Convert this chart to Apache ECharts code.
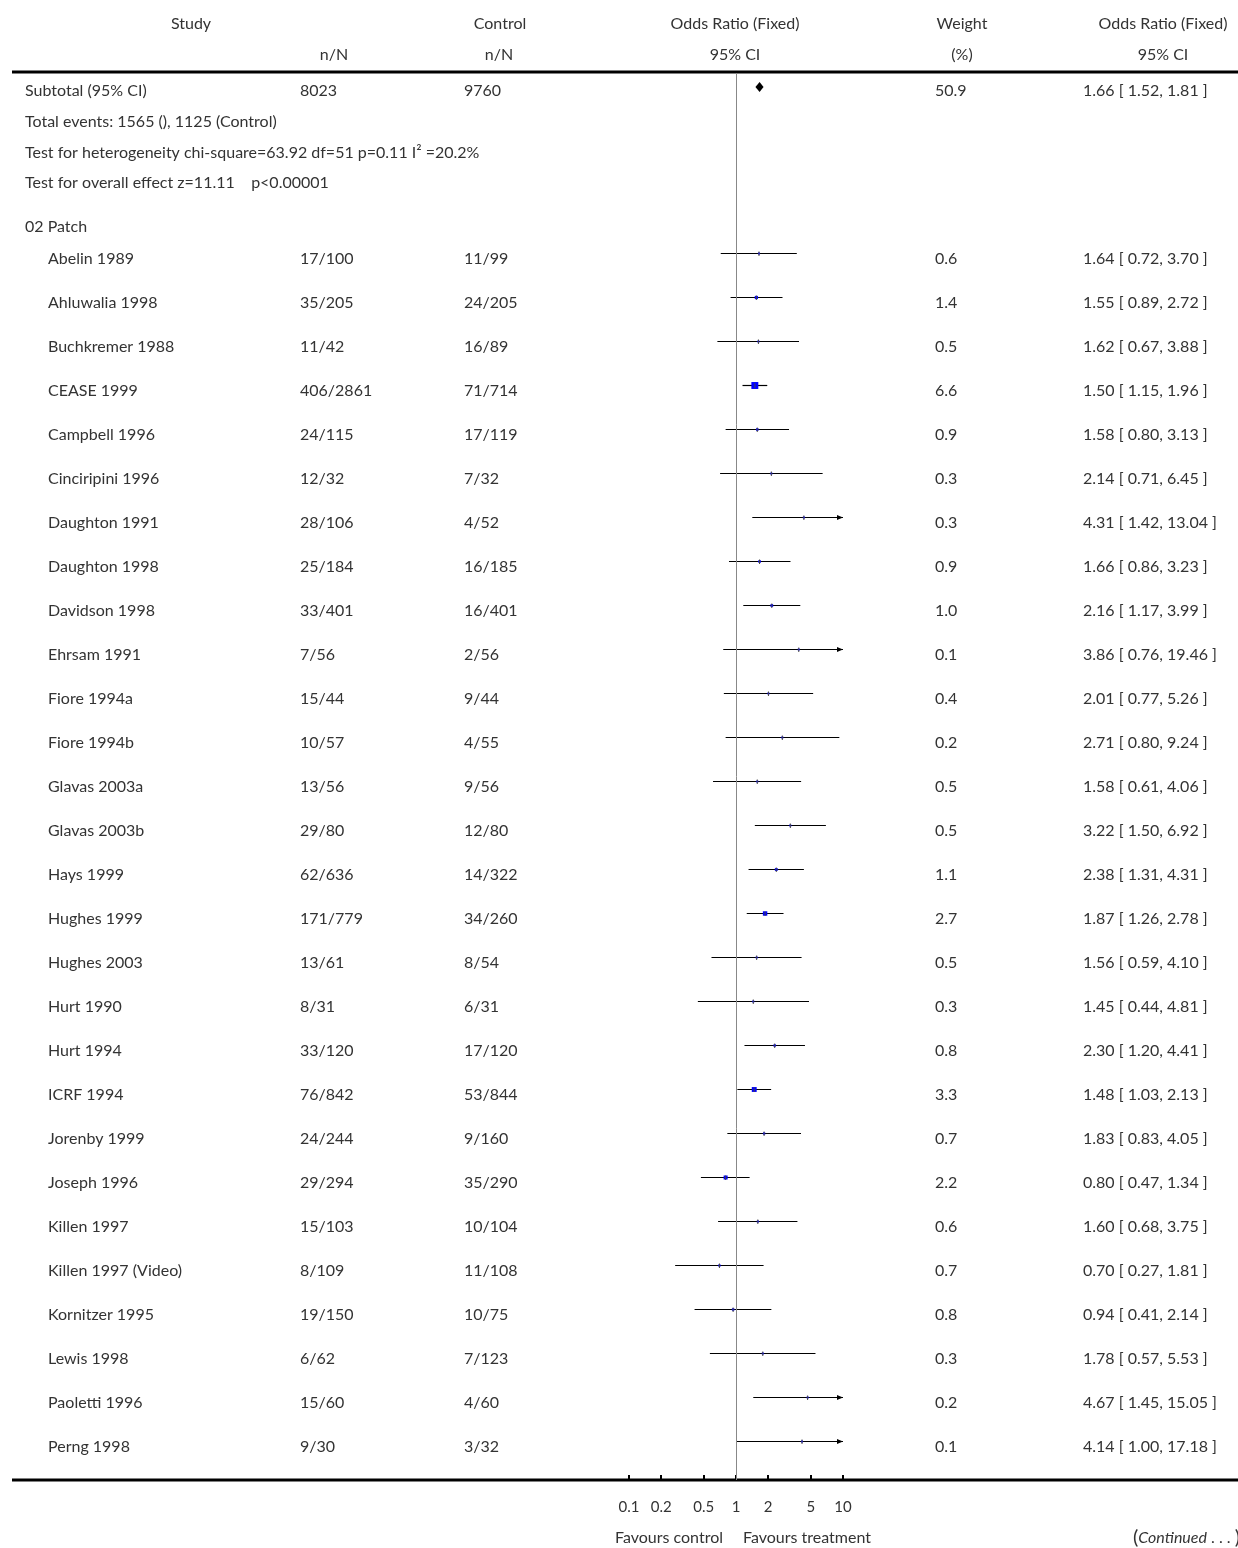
<!DOCTYPE html>
<html>
<head>
<meta charset="utf-8">
<script src="https://cdn.jsdelivr.net/npm/echarts@6/dist/echarts.min.js"></script>
<style>
  html, body { margin: 0; padding: 0; background: #fff; }
  #chart { width: 1238px; height: 1548px; }
</style>
</head>
<body>
<div id="chart"></div>
<script>
// data
var studies = ['Abelin 1989', 'Ahluwalia 1998', 'Buchkremer 1988', 'CEASE 1999', 'Campbell 1996',
  'Cinciripini 1996', 'Daughton 1991', 'Daughton 1998', 'Davidson 1998', 'Ehrsam 1991',
  'Fiore 1994a', 'Fiore 1994b', 'Glavas 2003a', 'Glavas 2003b', 'Hays 1999', 'Hughes 1999',
  'Hughes 2003', 'Hurt 1990', 'Hurt 1994', 'ICRF 1994', 'Jorenby 1999', 'Joseph 1996',
  'Killen 1997', 'Killen 1997 (Video)', 'Kornitzer 1995', 'Lewis 1998', 'Paoletti 1996', 'Perng 1998'];
var treatment = ['17/100', '35/205', '11/42', '406/2861', '24/115', '12/32', '28/106', '25/184', '33/401', '7/56',
  '15/44', '10/57', '13/56', '29/80', '62/636', '171/779', '13/61', '8/31', '33/120', '76/842',
  '24/244', '29/294', '15/103', '8/109', '19/150', '6/62', '15/60', '9/30'];
var control = ['11/99', '24/205', '16/89', '71/714', '17/119', '7/32', '4/52', '16/185', '16/401', '2/56',
  '9/44', '4/55', '9/56', '12/80', '14/322', '34/260', '8/54', '6/31', '17/120', '53/844',
  '9/160', '35/290', '10/104', '11/108', '10/75', '7/123', '4/60', '3/32'];
var weight = [0.6, 1.4, 0.5, 6.6, 0.9, 0.3, 0.3, 0.9, 1.0, 0.1, 0.4, 0.2, 0.5, 0.5, 1.1, 2.7,
  0.5, 0.3, 0.8, 3.3, 0.7, 2.2, 0.6, 0.7, 0.8, 0.3, 0.2, 0.1];
var oddsRatio = [1.64, 1.55, 1.62, 1.50, 1.58, 2.14, 4.31, 1.66, 2.16, 3.86, 2.01, 2.71, 1.58, 3.22,
  2.38, 1.87, 1.56, 1.45, 2.30, 1.48, 1.83, 0.80, 1.60, 0.70, 0.94, 1.78, 4.67, 4.14];
var ciLow = [0.72, 0.89, 0.67, 1.15, 0.80, 0.71, 1.42, 0.86, 1.17, 0.76, 0.77, 0.80, 0.61, 1.50,
  1.31, 1.26, 0.59, 0.44, 1.20, 1.03, 0.83, 0.47, 0.68, 0.27, 0.41, 0.57, 1.45, 1.00];
var ciHigh = [3.70, 2.72, 3.88, 1.96, 3.13, 6.45, 13.04, 3.23, 3.99, 19.46, 5.26, 9.24, 4.06, 6.92,
  4.31, 2.78, 4.10, 4.81, 4.41, 2.13, 4.05, 1.34, 3.75, 1.81, 2.14, 5.53, 15.05, 17.18];
var subtotal = { label: 'Subtotal (95% CI)', treat: '8023', ctrl: '9760', weight: '50.9', or: 1.66, lo: 1.52, hi: 1.81 };
var axisTicks = [0.1, 0.2, 0.5, 1, 2, 5, 10];

var txtFont = '16px Lato, "Open Sans", sans-serif';
var txtColor = '#333';
var subtotalRow = -3.77;

function fmt(v) { return v.toFixed(2); }
function ciText(o, l, h) { return fmt(o) + ' [ ' + fmt(l) + ', ' + fmt(h) + ' ]'; }

var chart = echarts.init(document.getElementById('chart'));

function renderStudy(params, api) {
  var i = params.dataIndex;
  var y = api.value(1);
  var p = api.coord([oddsRatio[i], y]);
  var pl = api.coord([ciLow[i], y]);
  var ph = api.coord([Math.min(ciHigh[i], 10), y]);
  var cy = Math.round(p[1]) + 0.5;
  var ty = cy + 5;
  var kids = [];
  kids.push({ type: 'line', shape: { x1: pl[0], y1: cy, x2: ph[0], y2: cy }, style: { stroke: '#000', lineWidth: 1.2 } });
  if (ciHigh[i] > 10) {
    kids.push({ type: 'polygon', shape: { points: [[ph[0] - 6, cy - 2.5], [ph[0], cy], [ph[0] - 6, cy + 2.5]] }, style: { fill: '#000' } });
  }
  var s = Math.max(2, 2.7 * Math.sqrt(weight[i]));
  kids.push({ type: 'rect', shape: { x: p[0] - s / 2, y: cy - s / 2, width: s, height: s }, style: { fill: '#0000ff' } });
  kids.push({ type: 'line', shape: { x1: p[0], y1: cy - 2, x2: p[0], y2: cy + 2.5 }, style: { stroke: '#444', lineWidth: 1 } });
  var cols = [
    [48, studies[i]], [300, treatment[i]], [464, control[i]],
    [935, weight[i].toFixed(1)], [1083, ciText(oddsRatio[i], ciLow[i], ciHigh[i])]
  ];
  cols.forEach(function (c) {
    kids.push({ type: 'text', style: { x: c[0], y: ty, text: c[1], font: txtFont, fill: txtColor, textAlign: 'left', textVerticalAlign: 'middle' } });
  });
  return { type: 'group', children: kids };
}

function renderSubtotal(params, api) {
  var y = api.value(1);
  var p = api.coord([subtotal.or, y]);
  var pl = api.coord([subtotal.lo, y]);
  var ph = api.coord([subtotal.hi, y]);
  var cy = p[1];
  var ty = cy + 4;
  var kids = [{
    type: 'polygon',
    shape: { points: [[pl[0], cy], [p[0], cy - 5], [ph[0], cy], [p[0], cy + 5]] },
    style: { fill: '#000' }
  }];
  [[25, subtotal.label], [300, subtotal.treat], [464, subtotal.ctrl], [935, subtotal.weight],
   [1083, ciText(subtotal.or, subtotal.lo, subtotal.hi)]].forEach(function (c) {
    kids.push({ type: 'text', style: { x: c[0], y: ty, text: c[1], font: txtFont, fill: txtColor, textAlign: 'left', textVerticalAlign: 'middle' } });
  });
  return { type: 'group', children: kids };
}

function headText(x, y, t, align) {
  return { type: 'text', x: x, y: y, style: { text: t, font: txtFont, fill: txtColor, textAlign: align || 'center', textVerticalAlign: 'middle' } };
}

chart.setOption({
  animation: false,
  backgroundColor: '#fff',
  grid: { left: 629, width: 214, top: 73, height: 1407 },
  xAxis: {
    type: 'log', logBase: 10, min: 0.1, max: 10,
    axisLine: { show: false, onZero: false },
    axisTick: { show: true, inside: true, length: 5, lineStyle: { color: '#000', width: 2 }, customValues: axisTicks },
    axisLabel: {
      customValues: axisTicks, margin: 20, color: '#333', fontSize: 15,
      fontFamily: 'Lato, "Open Sans", sans-serif',
      formatter: function (v) { return String(+v.toPrecision(2)); }
    },
    splitLine: { show: false }
  },
  yAxis: { type: 'value', inverse: true, min: -4.0909, max: 27.886, show: false },
  series: [
    {
      type: 'custom', name: 'studies', clip: false,
      renderItem: renderStudy,
      data: studies.map(function (s, i) { return [oddsRatio[i], i]; }),
      markLine: {
        silent: true, symbol: 'none', label: { show: false },
        lineStyle: { color: '#888', width: 1, type: 'solid' },
        data: [{ xAxis: 1 }]
      }
    },
    {
      type: 'custom', name: 'subtotal', clip: false,
      renderItem: renderSubtotal,
      data: [[subtotal.or, subtotalRow]]
    }
  ],
  graphic: [
    headText(191, 24, 'Study'), headText(500, 24, 'Control'),
    headText(334, 55, 'n/N'), headText(499, 55, 'n/N'),
    headText(735, 24, 'Odds Ratio (Fixed)'), headText(735, 55, '95% CI'),
    headText(962, 24, 'Weight'), headText(962, 55, '(%)'),
    headText(1163, 24, 'Odds Ratio (Fixed)'), headText(1163, 55, '95% CI'),
    headText(25, 122, 'Total events: 1565 (), 1125 (Control)', 'left'),
    headText(25, 153, 'Test for heterogeneity chi-square=63.92 df=51 p=0.11 I\u00b2 =20.2%', 'left'),
    headText(25, 183, 'Test for overall effect z=11.11    p<0.00001', 'left'),
    headText(25, 227, '02 Patch', 'left'),
    headText(669, 1538, 'Favours control'),
    headText(807, 1538, 'Favours treatment'),
    {
      type: 'text', x: 1240, y: 1538,
      style: {
        text: '{p|(}{i|Continued} . . . {p|)}',
        font: txtFont, fill: txtColor, textAlign: 'right', textVerticalAlign: 'middle',
        rich: {
          p: { fontSize: 20, fontFamily: 'Lato, sans-serif', fill: txtColor },
          i: { fontSize: 16, fontStyle: 'italic', fontFamily: 'Lato, sans-serif', fill: txtColor }
        }
      }
    },
    { type: 'line', shape: { x1: 12, y1: 72, x2: 1238, y2: 72 }, style: { stroke: '#000', lineWidth: 3 } },
    { type: 'line', shape: { x1: 12, y1: 1480, x2: 1238, y2: 1480 }, style: { stroke: '#000', lineWidth: 3 } }
  ]
});
</script>
</body>
</html>
